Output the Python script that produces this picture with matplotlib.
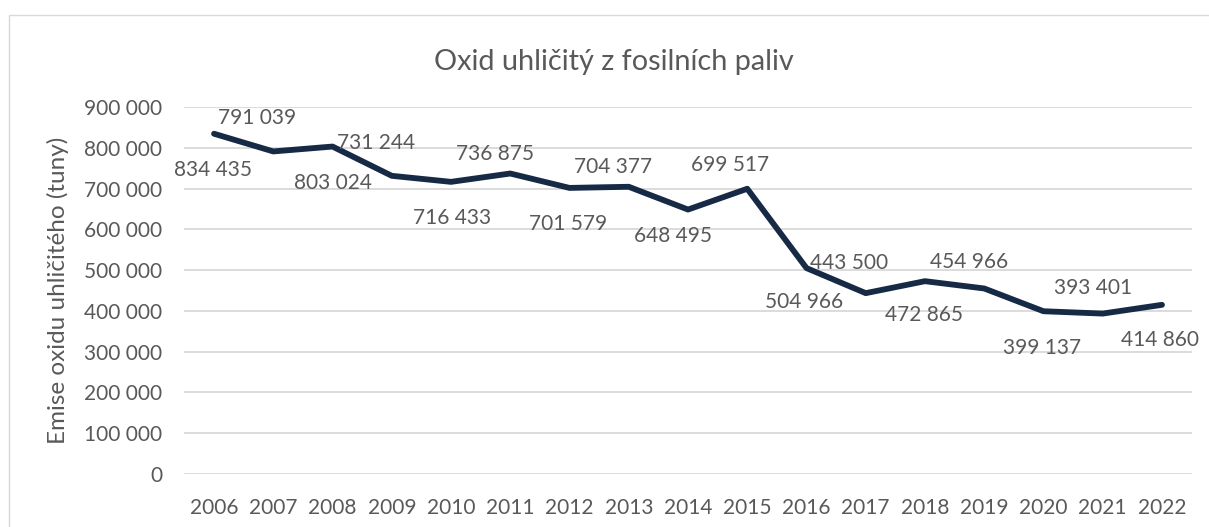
import matplotlib
matplotlib.use("Agg")
import matplotlib.pyplot as plt
from matplotlib.patches import Rectangle

# ---- data ----
years = ["2006", "2007", "2008", "2009", "2010", "2011", "2012", "2013", "2014",
         "2015", "2016", "2017", "2018", "2019", "2020", "2021", "2022"]
emissions = [834435, 791039, 803024, 731244, 716433, 736875, 701579, 704377, 648495,
             699517, 504966, 443500, 472865, 454966, 399137, 393401, 414860]
y_ticks = [0, 100000, 200000, 300000, 400000, 500000, 600000, 700000, 800000, 900000]
title = "Oxid uhličitý z fosilních paliv"
y_label = "Emise oxidu uhličitého (tuny)"

# label offsets in pixels (dx, dy) with dy positive downward
label_offsets = [(-1, 36), (-16, -33), (0, 36), (-16, -33), (1, 36), (-15, -20),
                 (-1, 36), (-16, -20), (-15, 26), (-17, -24), (-2, 34), (-17, -30),
                 (-1, 34), (-15, -26), (-1, 37), (-10, -26), (-2, 35)]

def fmt(v):
    return f"{v:,}".replace(",", " ")

FONT = "Lato"
TXT = "#595959"
GRID = "#d9d9d9"
LINE = "#172a45"
FS = 15

W, H = 1209, 527
fig = plt.figure(figsize=(W / 100, H / 100), dpi=100)
fig.patch.set_facecolor("white")

# chart border
fig.patches.append(Rectangle((9 / W, -0.2), 1.5, 1.2 - 15 / H,
                             transform=fig.transFigure, fill=False,
                             edgecolor=GRID, linewidth=1.0))

left = 184.4 / W
right = 1191.6 / W
bottom = (H - 474) / H
top = (H - 107) / H
ax = fig.add_axes([left, bottom, right - left, top - bottom])

x = list(range(len(years)))
ax.plot(x, emissions, color=LINE, linewidth=4.2, solid_capstyle="round",
        solid_joinstyle="round", zorder=3)

ax.set_xlim(-0.5, len(years) - 0.5)
ax.set_ylim(0, 900000)
ax.set_yticks(y_ticks)
ax.set_yticklabels([fmt(v) for v in y_ticks], fontsize=FS, color=TXT, family=FONT)
ax.set_xticks(x)
ax.set_xticklabels(years, fontsize=FS, color=TXT, family=FONT)
ax.tick_params(axis="both", length=0)
ax.tick_params(axis="y", pad=15.8)
ax.tick_params(axis="x", pad=17)
for s in ax.spines.values():
    s.set_visible(False)
ax.grid(axis="y", color=GRID, linewidth=1.3, zorder=0)
ax.set_axisbelow(True)

for xi, v, (dx, dy) in zip(x, emissions, label_offsets):
    ax.annotate(fmt(v), (xi, v), xytext=(dx, -dy), textcoords="offset pixels",
                ha="center", va="center", fontsize=FS, color=TXT, family=FONT,
                zorder=4)

fig.text(614 / W, 1 - 62 / H, title, ha="center", va="center", fontsize=20.8,
         color=TXT, family=FONT)
fig.text(58 / W, 1 - 290 / H, y_label, ha="center", va="center", rotation=90,
         fontsize=17.5, color=TXT, family=FONT)

fig.savefig("out.png", dpi=100, facecolor="white")
